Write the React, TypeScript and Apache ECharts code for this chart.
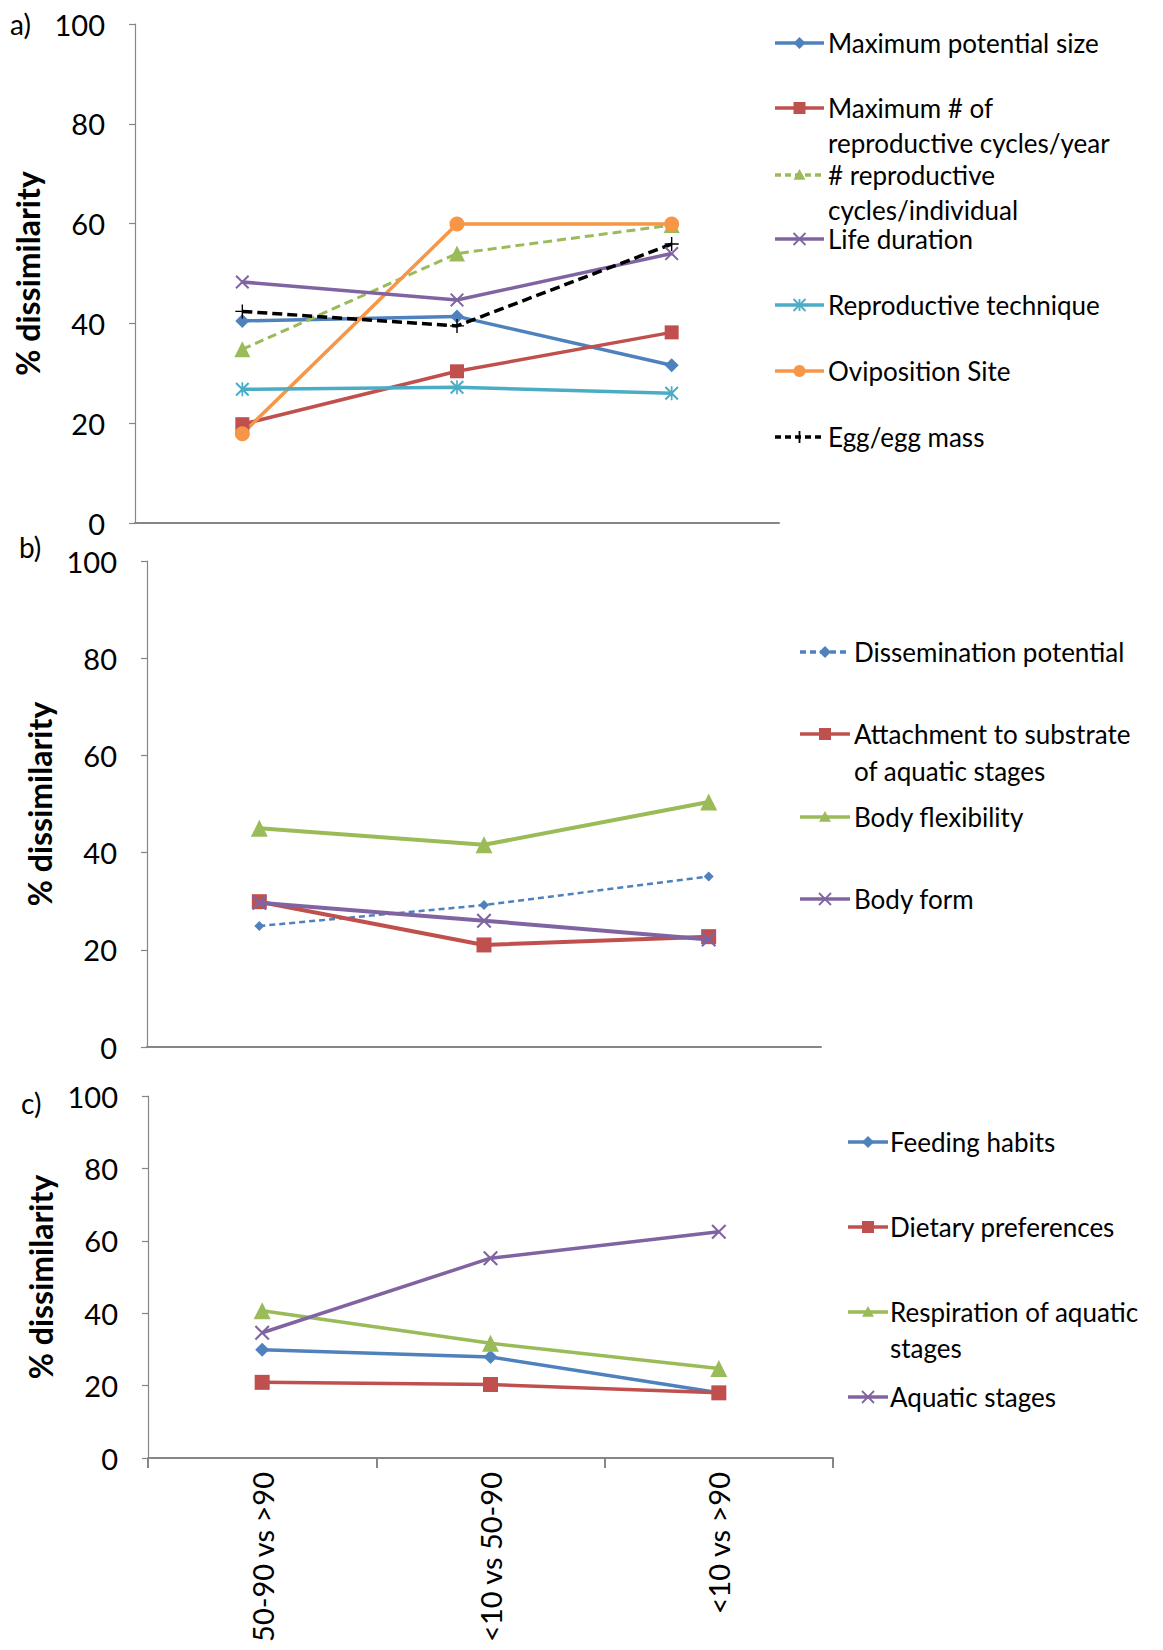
import React, { useEffect, useRef } from "react";
import * as echarts from "echarts";

// ---------- DATA ----------
const categories = ["50-90 vs >90", "<10 vs 50-90", "<10 vs >90"];
const yMin = 0;
const yMax = 100;
const yStep = 20;

// Panel a
const maxPotentialSize = [40.5, 41.4, 31.6];
const maxReproCyclesYear = [19.8, 30.4, 38.2];
const reproCyclesIndividual = [34.8, 54.0, 59.7];
const lifeDuration = [48.3, 44.7, 54.0];
const reproTechnique = [26.8, 27.2, 26.0];
const ovipositionSite = [17.9, 59.9, 59.9];
const eggMass = [42.4, 39.5, 55.9];

// Panel b
const disseminationPotential = [24.9, 29.2, 35.1];
const attachmentSubstrate = [29.9, 21.0, 22.7];
const bodyFlexibility = [45.0, 41.6, 50.4];
const bodyForm = [29.7, 26.0, 22.1];

// Panel c
const feedingHabits = [29.9, 27.9, 18.0];
const dietaryPreferences = [20.9, 20.3, 18.0];
const respirationAquatic = [40.7, 31.7, 24.7];
const aquaticStages = [34.6, 55.2, 62.5];

const panelLabels = ["a)", "b)", "c)"];
const yAxisName = "% dissimilarity";

// ---------- STYLE ----------
const BLUE = "#4F81BD";
const RED = "#C0504D";
const GREEN = "#9BBB59";
const PURPLE = "#8064A2";
const TEAL = "#4BACC6";
const ORANGE = "#F79646";
const BLACK = "#000000";
const AXIS = "#868686";
const FONT = "Lato, 'Open Sans', sans-serif";

const SYM_X = "path://M0,1L1,0L5,4L9,0L10,1L6,5L10,9L9,10L5,6L1,10L0,9L4,5Z";
const SYM_STAR =
  "path://M0,1L1,0L5,4L9,0L10,1L6,5L10,9L9,10L5,6L1,10L0,9L4,5ZM4.4,0L5.6,0L5.6,10L4.4,10Z";
const SYM_PLUS =
  "path://M4.5,0L5.5,0L5.5,4.5L10,4.5L10,5.5L5.5,5.5L5.5,10L4.5,10L4.5,5.5L0,5.5L0,4.5L4.5,4.5Z";

type Item = {
  label: string[];
  data: number[];
  color: string;
  kind: "diamond" | "rect" | "triangle" | "circle" | "x" | "star" | "plus";
  size: number;
  width: number;
  dash: number[] | null;
};

const panels: Item[][] = [
  [
    { label: ["Maximum potential size"], data: maxPotentialSize, color: BLUE, kind: "diamond", size: 14, width: 3.5, dash: null },
    { label: ["Maximum # of", "reproductive cycles/year"], data: maxReproCyclesYear, color: RED, kind: "rect", size: 14, width: 3.5, dash: null },
    { label: ["# reproductive", "cycles/individual"], data: reproCyclesIndividual, color: GREEN, kind: "triangle", size: 16, width: 3, dash: [9, 5] },
    { label: ["Life duration"], data: lifeDuration, color: PURPLE, kind: "x", size: 14, width: 3.5, dash: null },
    { label: ["Reproductive technique"], data: reproTechnique, color: TEAL, kind: "star", size: 14, width: 3.5, dash: null },
    { label: ["Oviposition Site"], data: ovipositionSite, color: ORANGE, kind: "circle", size: 15, width: 3.5, dash: null },
    { label: ["Egg/egg mass"], data: eggMass, color: BLACK, kind: "plus", size: 14, width: 3.5, dash: [10, 5] },
  ],
  [
    { label: ["Dissemination potential"], data: disseminationPotential, color: BLUE, kind: "diamond", size: 10, width: 2.5, dash: [6, 4] },
    { label: ["Attachment to substrate", "of aquatic stages"], data: attachmentSubstrate, color: RED, kind: "rect", size: 15, width: 4, dash: null },
    { label: ["Body flexibility"], data: bodyFlexibility, color: GREEN, kind: "triangle", size: 17, width: 4, dash: null },
    { label: ["Body form"], data: bodyForm, color: PURPLE, kind: "x", size: 15, width: 4, dash: null },
  ],
  [
    { label: ["Feeding habits"], data: feedingHabits, color: BLUE, kind: "diamond", size: 14, width: 3.5, dash: null },
    { label: ["Dietary preferences"], data: dietaryPreferences, color: RED, kind: "rect", size: 15, width: 3.5, dash: null },
    { label: ["Respiration of aquatic", "stages"], data: respirationAquatic, color: GREEN, kind: "triangle", size: 17, width: 3.5, dash: null },
    { label: ["Aquatic stages"], data: aquaticStages, color: PURPLE, kind: "x", size: 15, width: 3.5, dash: null },
  ],
];

// layout
const grids = [
  { left: 135, top: 24, width: 644, height: 499, nameGap: 86 },
  { left: 147, top: 561, width: 674, height: 486, nameGap: 88 },
  { left: 148, top: 1096, width: 685, height: 362, nameGap: 91 },
];
const legendLayout = [
  { x0: 775, x1: 824, tx: 828, ys: [43, 108, 175, 239, 305, 371, 437], gap: 35 },
  { x0: 800, x1: 850, tx: 854, ys: [652, 734, 817, 899], gap: 37 },
  { x0: 848, x1: 888, tx: 890, ys: [1142, 1227, 1312, 1397], gap: 36 },
];
const panelLabelPos = [
  { x: 10, y: 24 },
  { x: 19, y: 547 },
  { x: 21, y: 1103 },
];

function seriesSymbol(kind: Item["kind"]): string {
  if (kind === "x") return SYM_X;
  if (kind === "star") return SYM_STAR;
  if (kind === "plus") return SYM_PLUS;
  if (kind === "rect") return "rect";
  return kind;
}

function legendMarker(kind: Item["kind"], cx: number, cy: number, color: string): any[] {
  const s = 6;
  switch (kind) {
    case "diamond":
      return [{ type: "polygon", shape: { points: [[cx, cy - s], [cx + s, cy], [cx, cy + s], [cx - s, cy]] }, style: { fill: color } }];
    case "rect":
      return [{ type: "rect", shape: { x: cx - s, y: cy - s, width: 2 * s, height: 2 * s }, style: { fill: color } }];
    case "triangle":
      return [{ type: "polygon", shape: { points: [[cx, cy - s], [cx + s, cy + s * 0.8], [cx - s, cy + s * 0.8]] }, style: { fill: color } }];
    case "circle":
      return [{ type: "circle", shape: { cx, cy, r: s }, style: { fill: color } }];
    case "x":
    case "star":
    case "plus": {
      const out: any[] = [];
      if (kind !== "plus") {
        out.push({ type: "line", shape: { x1: cx - s, y1: cy - s, x2: cx + s, y2: cy + s }, style: { stroke: color, lineWidth: 1.8 } });
        out.push({ type: "line", shape: { x1: cx + s, y1: cy - s, x2: cx - s, y2: cy + s }, style: { stroke: color, lineWidth: 1.8 } });
      }
      if (kind !== "x") {
        out.push({ type: "line", shape: { x1: cx, y1: cy - s, x2: cx, y2: cy + s }, style: { stroke: color, lineWidth: 1.8 } });
      }
      return out;
    }
  }
  return [];
}

export default function App() {
  const ref = useRef<HTMLDivElement>(null);

  useEffect(() => {
    if (!ref.current) return;
    const chart = echarts.init(ref.current, undefined, { renderer: "svg" });

    const grid = grids.map((g) => ({
      left: g.left,
      top: g.top,
      width: g.width,
      height: g.height,
      containLabel: false,
      outerBoundsMode: "none",
    }));

    const xAxis = grids.map((g, i) => ({
      type: "category",
      gridIndex: i,
      data: categories,
      boundaryGap: true,
      axisLine: { show: true, lineStyle: { color: AXIS, width: 2 } },
      axisTick: { show: i === 2, length: 10, lineStyle: { color: AXIS, width: 2 } },
      axisLabel: {
        show: i === 2,
        rotate: 90,
        interval: 0,
        margin: 14,
        fontSize: 29,
        fontFamily: FONT,
        color: "#000",
      },
      splitLine: { show: false },
    }));

    const yAxis = grids.map((g, i) => ({
      type: "value",
      gridIndex: i,
      min: yMin,
      max: yMax,
      interval: yStep,
      name: yAxisName,
      nameLocation: "middle",
      nameGap: g.nameGap,
      nameTextStyle: { fontSize: 32, fontWeight: "bold", fontFamily: FONT, color: "#000" },
      axisLine: { show: true, lineStyle: { color: AXIS, width: 1.2 } },
      axisTick: { show: true, length: 6, lineStyle: { color: AXIS, width: 1.2 } },
      axisLabel: { fontSize: 29, fontFamily: FONT, color: "#000", margin: 30 },
      splitLine: { show: false },
    }));

    const series: any[] = [];
    panels.forEach((items, p) => {
      items.forEach((it) => {
        const custom = it.kind === "x" || it.kind === "star" || it.kind === "plus";
        series.push({
          type: "line",
          name: it.label.join(" "),
          xAxisIndex: p,
          yAxisIndex: p,
          data: it.data,
          symbol: seriesSymbol(it.kind),
          symbolSize: it.size,
          symbolKeepAspect: true,
          showSymbol: true,
          lineStyle: { color: it.color, width: it.width, type: it.dash ? it.dash : "solid" },
          itemStyle: { color: it.color, borderWidth: 0 },
          emphasis: { disabled: true },
          z: custom ? 3 : 2,
        });
      });
    });

    const graphic: any[] = [];
    panelLabels.forEach((t, i) => {
      graphic.push({
        type: "text",
        style: {
          text: t,
          x: panelLabelPos[i].x,
          y: panelLabelPos[i].y,
          font: `28px ${FONT}`,
          fill: "#000",
          textAlign: "left",
          textVerticalAlign: "middle",
        },
      });
    });
    panels.forEach((items, p) => {
      const L = legendLayout[p];
      items.forEach((it, k) => {
        const y = L.ys[k];
        graphic.push({
          type: "line",
          shape: { x1: L.x0, y1: y, x2: L.x1, y2: y },
          style: { stroke: it.color, lineWidth: 3.5, lineDash: it.dash ? [6, 4] : null },
        });
        legendMarker(it.kind, (L.x0 + L.x1) / 2, y, it.color).forEach((m) => graphic.push(m));
        it.label.forEach((line, j) => {
          graphic.push({
            type: "text",
            style: {
              text: line,
              x: L.tx,
              y: y + j * L.gap,
              font: `26px ${FONT}`,
              fill: "#000",
              textAlign: "left",
              textVerticalAlign: "middle",
            },
          });
        });
      });
    });

    chart.setOption({
      animation: false,
      backgroundColor: "#fff",
      grid,
      xAxis,
      yAxis,
      series,
      graphic,
    });

    return () => chart.dispose();
  }, []);

  return (
    <div
      ref={ref}
      style={{ position: "absolute", left: 0, top: 0, width: 1163, height: 1650, background: "#fff" }}
    />
  );
}
